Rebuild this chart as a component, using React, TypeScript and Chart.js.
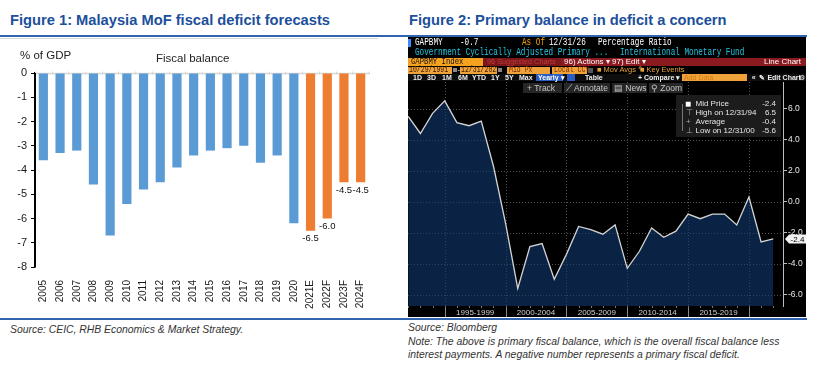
import React, { useEffect, useRef } from "react";
import { Chart, registerables } from "chart.js";
Chart.register(...registerables);

const FONT = '"Liberation Sans", Arial, sans-serif';
const MONO = '"Liberation Mono", "DejaVu Sans Mono", monospace';

// ---------- Figure 1 data ----------
const fiscalYears = ["2005", "2006", "2007", "2008", "2009", "2010", "2011", "2012", "2013", "2014", "2015", "2016", "2017", "2018", "2019", "2020", "2021E", "2022F", "2023F", "2024F"];
const fiscalBalance = [-3.6, -3.3, -3.2, -4.6, -6.7, -5.4, -4.8, -4.5, -3.9, -3.4, -3.2, -3.1, -3.0, -3.7, -3.4, -6.2, -6.5, -6.0, -4.5, -4.5];
const fiscalTicks = [0, -1, -2, -3, -4, -5, -6, -7, -8];

// ---------- Figure 2 data ----------
const bbgYears = [1991, 1992, 1993, 1994, 1995, 1996, 1997, 1998, 1999, 2000, 2001, 2002, 2003, 2004, 2005, 2006, 2007, 2008, 2009, 2010, 2011, 2012, 2013, 2014, 2015, 2016, 2017, 2018, 2019, 2020, 2021];
const primaryBalance = [5.5, 4.4, 5.7, 6.5, 5.1, 4.9, 5.2, 2.3, -1.4, -5.6, -2.9, -2.7, -5.0, -3.4, -1.6, -1.8, -2.1, -1.5, -4.3, -3.2, -1.7, -2.3, -1.9, -0.8, -1.1, -0.8, -0.8, -1.5, 0.3, -2.6, -2.4];
const bbgTicks = [6, 4, 2, 0, -2, -4, -6];
const periodLabels = ["1995-1999", "2000-2004", "2005-2009", "2010-2014", "2015-2019"];
const gridYears = [1995, 2000, 2005, 2010, 2015, 2020];

const isForecast = (l: string) => /[EF]$/.test(l);

const fig1Plugin = {
  id: "fig1",
  beforeDatasetsDraw(chart: any) {
    const { ctx, chartArea: a, scales } = chart;
    const x = scales.x, y = scales.y;
    const y0 = Math.round(y.getPixelForValue(0)) + 0.5;
    ctx.save();
    ctx.strokeStyle = "#d6d6d6";
    ctx.lineWidth = 1.5;
    ctx.beginPath();
    ctx.moveTo(a.left, y0);
    ctx.lineTo(a.right, y0);
    ctx.stroke();
    const n = chart.data.labels.length;
    const step = x.getPixelForValue(1) - x.getPixelForValue(0);
    ctx.lineWidth = 1;
    for (let i = 0; i <= n; i++) {
      const px = Math.round(x.getPixelForValue(0) - step / 2 + i * step) + 0.5;
      ctx.beginPath();
      ctx.moveTo(px, y0 - 2);
      ctx.lineTo(px, y0 + 1);
      ctx.stroke();
    }
    ctx.restore();
  },
  afterDatasetsDraw(chart: any) {
    const { ctx } = chart;
    const meta = chart.getDatasetMeta(0);
    ctx.save();
    ctx.font = `9.5px ${FONT}`;
    ctx.fillStyle = "#111";
    ctx.textAlign = "center";
    ctx.textBaseline = "top";
    meta.data.forEach((bar: any, i: number) => {
      if (isForecast(fiscalYears[i])) ctx.fillText(fiscalBalance[i].toFixed(1), bar.x, bar.y + 3);
    });
    ctx.restore();
  },
  afterDraw(chart: any) {
    const { ctx, chartArea: a } = chart;
    ctx.save();
    ctx.strokeStyle = "#000";
    ctx.lineWidth = 1.5;
    ctx.beginPath();
    ctx.moveTo(a.left + 0.25, a.top);
    ctx.lineTo(a.left + 0.25, a.bottom);
    ctx.stroke();
    ctx.restore();
  },
};

const bbgPlugin = {
  id: "bbg",
  beforeDatasetsDraw(chart: any) {
    const { ctx, chartArea: a, scales } = chart;
    const x = scales.x, y = scales.y;
    ctx.save();
    ctx.strokeStyle = "#505050";
    ctx.lineWidth = 1;
    ctx.setLineDash([1, 2]);
    bbgTicks.forEach((v) => {
      const py = Math.round(y.getPixelForValue(v)) + 0.5;
      ctx.beginPath();
      ctx.moveTo(a.left, py);
      ctx.lineTo(a.right, py);
      ctx.stroke();
    });
    gridYears.forEach((yr) => {
      const px = Math.round(x.getPixelForValue(yr)) + 0.5;
      ctx.beginPath();
      ctx.moveTo(px, a.top);
      ctx.lineTo(px, a.bottom);
      ctx.stroke();
    });
    ctx.restore();
  },
  afterDraw(chart: any) {
    const { ctx, chartArea: a, scales } = chart;
    const x = scales.x, y = scales.y;
    ctx.save();
    ctx.strokeStyle = "#8a8a8a";
    ctx.lineWidth = 1;
    gridYears.forEach((yr) => {
      const px = Math.round(x.getPixelForValue(yr)) + 0.5;
      ctx.beginPath();
      ctx.moveTo(px, a.bottom);
      ctx.lineTo(px, chart.height);
      ctx.stroke();
    });
    ctx.strokeStyle = "#777";
    bbgYears.forEach((yr) => {
      const px = Math.round(x.getPixelForValue(yr + 1)) + 0.5;
      ctx.beginPath();
      ctx.moveTo(px, a.bottom);
      ctx.lineTo(px, a.bottom + 2);
      ctx.stroke();
    });
    ctx.fillStyle = "#d0d0d0";
    ctx.font = `8px ${FONT}`;
    ctx.textAlign = "center";
    ctx.textBaseline = "middle";
    periodLabels.forEach((l) => {
      const start = parseInt(l);
      const px = x.getPixelForValue(start + 2.5);
      ctx.fillText(l, px, (a.bottom + chart.height) / 2 + 1);
    });
    const last = primaryBalance[primaryBalance.length - 1];
    const py = y.getPixelForValue(last);
    const x0 = a.right + 2;
    ctx.fillStyle = "#f2f2f2";
    ctx.beginPath();
    ctx.moveTo(x0, py);
    ctx.lineTo(x0 + 4, py - 4.5);
    ctx.lineTo(x0 + 21, py - 4.5);
    ctx.lineTo(x0 + 21, py + 4.5);
    ctx.lineTo(x0 + 4, py + 4.5);
    ctx.closePath();
    ctx.fill();
    ctx.fillStyle = "#000";
    ctx.font = `8px ${FONT}`;
    ctx.textAlign = "center";
    ctx.textBaseline = "middle";
    ctx.fillText(last.toFixed(1), x0 + 12.5, py + 0.5);
    ctx.restore();
  },
};

function Mono({ x, cy, text, color, size = 10 }: any) {
  return (
    <div style={{ position: "absolute", left: x, top: cy - 6, height: 12, lineHeight: "12px", fontFamily: MONO, fontSize: size, color, whiteSpace: "pre", transform: "scaleX(0.767)", transformOrigin: "0 0" }}>{text}</div>
  );
}

function Sans({ x, cy, text, color, size = 8, bold = false, right, italic = false }: any) {
  const st: any = { position: "absolute", top: cy - 6, height: 12, lineHeight: "12px", fontFamily: FONT, fontSize: size, color, whiteSpace: "pre", fontWeight: bold ? "bold" : "normal", fontStyle: italic ? "italic" : "normal" };
  if (right !== undefined) st.right = 825 - right;
  else st.left = x;
  return <div style={st}>{text}</div>;
}

function Rect({ x1, x2, y1, y2, bg }: any) {
  return <div style={{ position: "absolute", left: x1, top: y1, width: x2 - x1, height: y2 - y1, background: bg }} />;
}

export default function App() {
  const ref1 = useRef<HTMLCanvasElement>(null);
  const ref2 = useRef<HTMLCanvasElement>(null);

  useEffect(() => {
    const c1 = new Chart(ref1.current as HTMLCanvasElement, {
      type: "bar",
      data: {
        labels: fiscalYears,
        datasets: [
          {
            data: fiscalBalance,
            backgroundColor: fiscalYears.map((l) => (isForecast(l) ? "#ed7d31" : "#5b9bd5")),
            barPercentage: 0.55,
            categoryPercentage: 1,
          },
        ],
      },
      options: {
        responsive: false,
        animation: false,
        devicePixelRatio: 1,
        layout: { padding: { top: 35, right: 36, left: 0, bottom: 0 } },
        plugins: { legend: { display: false }, tooltip: { enabled: false } },
        scales: {
          x: {
            grid: { display: false },
            border: { display: false },
            ticks: { minRotation: 90, maxRotation: 90, autoSkip: false, padding: 5, color: "#1a1a1a", font: { family: FONT, size: 10 } },
            afterFit: (s: any) => { s.height = 51; },
          },
          y: {
            min: -8,
            max: 0,
            afterBuildTicks: (s: any) => { s.ticks = fiscalTicks.map((v) => ({ value: v })); },
            ticks: { padding: 4, color: "#1a1a1a", font: { family: FONT, size: 11 } },
            grid: { drawOnChartArea: false, drawTicks: true, tickLength: 4, color: "#000", lineWidth: 1 },
            border: { display: true, color: "#000", width: 1.5 },
            afterFit: (s: any) => { s.width = 35; },
          },
        },
      } as any,
      plugins: [fig1Plugin],
    });

    const c2 = new Chart(ref2.current as HTMLCanvasElement, {
      type: "line",
      data: {
        datasets: [
          {
            data: bbgYears.map((yr, i) => ({ x: yr + 1, y: primaryBalance[i] })),
            borderColor: "#d4d4d4",
            borderWidth: 1.3,
            pointRadius: 0,
            fill: "start",
            backgroundColor: "rgba(18,60,118,0.58)",
            tension: 0,
          },
        ],
      },
      options: {
        responsive: false,
        animation: false,
        devicePixelRatio: 1,
        layout: { padding: { top: 45, left: 0, right: 0, bottom: 0 } },
        plugins: { legend: { display: false }, tooltip: { enabled: false } },
        scales: {
          x: {
            type: "linear",
            min: 1991.98,
            max: 2022.8,
            grid: { display: false },
            border: { display: false },
            ticks: { display: false },
            afterFit: (s: any) => { s.height = 11; },
          },
          y: {
            type: "linear",
            position: "right",
            min: -6.73,
            max: 7.72,
            afterBuildTicks: (s: any) => { s.ticks = bbgTicks.map((v) => ({ value: v })); },
            ticks: { padding: 1, color: "#e8e8e8", font: { family: FONT, size: 8.5 }, callback: (v: any) => Number(v).toFixed(1) },
            grid: { drawOnChartArea: false, drawTicks: true, tickLength: 4, color: "#bdbdbd" },
            border: { display: true, color: "#bdbdbd", width: 1 },
            afterFit: (s: any) => { s.width = 23; },
          },
        },
      } as any,
      plugins: [bbgPlugin],
    });

    return () => {
      c1.destroy();
      c2.destroy();
    };
  }, []);

  const last = primaryBalance[primaryBalance.length - 1];
  const maxV = Math.max(...primaryBalance);
  const minV = Math.min(...primaryBalance);
  const avg = primaryBalance.reduce((s, v) => s + v, 0) / primaryBalance.length;
  const maxYear = bbgYears[primaryBalance.indexOf(maxV)];
  const minYear = bbgYears[primaryBalance.indexOf(minV)];
  const d = (y: number) => `12/31/${String(y).slice(2)}`;
  const legendRows = [
    { icon: "■", label: "Mid Price", value: last },
    { icon: "⊤", label: `High on ${d(maxYear)}`, value: maxV },
    { icon: "+", label: "Average", value: avg },
    { icon: "⊥", label: `Low on ${d(minYear)}`, value: minV },
  ];
  const legendY = [104, 113.3, 122, 130.7];

  return (
    <div style={{ position: "absolute", left: 0, top: 0, width: 825, height: 380, background: "#fff", fontFamily: FONT, overflow: "hidden" }}>
      <div style={{ position: "absolute", left: 10, top: 12, fontSize: 14.7, fontWeight: "bold", color: "#1c4f9c", lineHeight: "16px", whiteSpace: "nowrap" }}>Figure 1: Malaysia MoF fiscal deficit forecasts</div>
      <div style={{ position: "absolute", left: 409, top: 12, fontSize: 14.7, fontWeight: "bold", color: "#1c4f9c", lineHeight: "16px", whiteSpace: "nowrap" }}>Figure 2: Primary balance in deficit a concern</div>
      <Rect x1={0} x2={807} y1={35} y2={37} bg="#2e64b0" />
      <Rect x1={0} x2={378} y1={37.5} y2={38.5} bg="#d8d8d8" />

      <canvas ref={ref1} width={405} height={280} style={{ position: "absolute", left: 0, top: 38, width: 405, height: 280 }} />
      <Sans x={20} cy={55} text="% of GDP" color="#222" size={11.5} />
      <Sans x={156} cy={58} text="Fiscal balance" color="#222" size={11.5} />

      <div style={{ position: "absolute", left: 408, top: 37, width: 398, height: 280, background: "#000" }} />
      <canvas ref={ref2} width={398} height={280} style={{ position: "absolute", left: 408, top: 37, width: 398, height: 280 }} />

      {/* row 1 */}
      <Rect x1={408} x2={411} y1={39} y2={47} bg="#3d8bff" />
      <Mono x={415} cy={43} text="GAPBMY" color="#fff" />
      <Mono x={460} cy={43} text="-0.7" color="#fff" />
      <Mono x={522} cy={43} text="As Of" color="#f2a007" />
      <Mono x={549} cy={43} text="12/31/26" color="#fff" />
      <Mono x={598} cy={43} text="Percentage Ratio" color="#fff" />
      {/* row 2 */}
      <Mono x={415} cy={52.5} text="Government Cyclically Adjusted Primary ..." color="#22c6de" />
      <Mono x={620} cy={52.5} text="International Monetary Fund" color="#22c6de" />
      {/* row 3 */}
      <Rect x1={408} x2={483} y1={58} y2={66} bg="#f5a21f" />
      <Mono x={411} cy={62} text="GAPBMY Index" color="#111" size={9.5} />
      <Rect x1={483} x2={806} y1={58} y2={66} bg="#8a1a1f" />
      <Rect x1={483} x2={561} y1={58} y2={66} bg="#7a171b" />
      <Sans x={487} cy={62} text="96 Suggested Charts" color="#c23b3b" size={7.3} />
      <Sans x={564} cy={62} text="96) Actions ▾" color="#fff" size={8} />
      <Sans x={612} cy={62} text="97) Edit ▾" color="#fff" size={8} />
      <Sans right={801} cy={62} text="Line Chart" color="#fff" size={8} />
      {/* row 4 */}
      <Rect x1={408} x2={451.7} y1={66.5} y2={73.5} bg="#f0a23a" />
      <Mono x={409} cy={70} text="10/29/1991" color="#3a1a00" size={8.5} />
      <Rect x1={452.5} x2={457} y1={68} y2={72} bg="#888" />
      <Sans x={457.5} cy={70} text="-" color="#fff" size={7} />
      <Rect x1={460} x2={496.7} y1={66.5} y2={73.5} bg="#f0a23a" />
      <Mono x={461} cy={70} text="12/31/2021" color="#3a1a00" size={8.5} />
      <Rect x1={497.5} x2={502} y1={68} y2={72} bg="#888" />
      <Rect x1={506.7} x2={550} y1={66.5} y2={73.5} bg="#f0a23a" />
      <Mono x={509} cy={70} text="Mid Px" color="#7a2a00" size={8.5} />
      <Rect x1={551.7} x2={586.7} y1={66.5} y2={73.5} bg="#f0a23a" />
      <Mono x={554} cy={70} text="Local CCY" color="#7a2a00" size={8.5} />
      <Rect x1={588} x2={593} y1={67.5} y2={72.5} bg="#555" />
      <Sans x={597} cy={70} text="■ Mov Avgs ✎" color="#e6a23c" size={7.5} />
      <Sans x={640} cy={70} text="■ Key Events" color="#e6a23c" size={7.5} />
      {/* row 5 */}
      <Rect x1={408} x2={806} y1={74} y2={81} bg="#0e0e0e" />
      {["1D", "3D", "1M", "6M", "YTD", "1Y", "5Y", "Max"].map((t, i) => (
        <Sans key={t} x={[413, 427, 442, 458, 472, 491, 505, 519][i]} cy={77.5} text={t} color="#eee" size={7} bold />
      ))}
      <Rect x1={535.7} x2={563.3} y1={74.3} y2={81} bg="#2a5cc4" />
      <Sans x={538} cy={77.5} text="Yearly ▾" color="#fff" size={7} bold />
      <Rect x1={566.7} x2={575} y1={74.3} y2={81} bg="#2a5cc4" />
      <Sans x={585} cy={77.5} text="Table" color="#eee" size={7} bold />
      <Sans x={638} cy={77.5} text="+ Compare ▾" color="#eee" size={7} bold />
      <Rect x1={681.7} x2={746.7} y1={74.3} y2={81} bg="#f0a23a" />
      <Sans x={684} cy={77.5} text="Add Data" color="#d07a10" size={7} />
      <Sans x={751.7} cy={77.5} text="«  ✎ Edit Chart" color="#eee" size={7} bold />
      <Sans x={799} cy={77.5} text="⚙" color="#eee" size={7} />
      {/* row 6 buttons */}
      <Rect x1={523} x2={561.7} y1={82.5} y2={92.5} bg="#262626" />
      <Sans x={527} cy={87.5} text="+ Track" color="#c8c8c8" size={8.5} />
      <Rect x1={564} x2={610} y1={82.5} y2={92.5} bg="#262626" />
      <Sans x={566} cy={87.5} text="⟋ Annotate" color="#c8c8c8" size={8.5} />
      <Rect x1={612} x2={647} y1={82.5} y2={92.5} bg="#262626" />
      <Sans x={614} cy={87.5} text="▤ News" color="#c8c8c8" size={8.5} />
      <Rect x1={649} x2={683} y1={82.5} y2={92.5} bg="#262626" />
      <Sans x={651} cy={87.5} text="⚲ Zoom" color="#c8c8c8" size={8.5} />

      {/* legend box */}
      <div style={{ position: "absolute", left: 676, top: 95, width: 105, height: 42, background: "rgba(30,30,30,0.92)" }} />
      <Rect x1={682} x2={683} y1={104} y2={131} bg="#777" />
      {legendRows.map((r, i) => (
        <React.Fragment key={r.label}>
          <Sans x={r.icon === "■" ? 685 : 686} cy={legendY[i]} text={r.icon} color={r.icon === "■" ? "#fff" : "#aaa"} size={r.icon === "■" ? 10 : 8} />
          <Sans x={695.5} cy={legendY[i]} text={r.label} color="#e6e6e6" size={8} />
          <Sans right={776} cy={legendY[i]} text={r.value.toFixed(1)} color="#e6e6e6" size={8} />
        </React.Fragment>
      ))}

      <Rect x1={0} x2={807} y1={318} y2={320} bg="#2e64b0" />
      <Sans x={10} cy={330} text="Source: CEIC, RHB Economics & Market Strategy." color="#333" size={10.4} italic />
      <Sans x={408} cy={328.3} text="Source: Bloomberg" color="#333" size={10.4} italic />
      <Sans x={408} cy={341.7} text="Note: The above is primary fiscal balance, which is the overall fiscal balance less" color="#333" size={10.4} italic />
      <Sans x={408} cy={355} text="interest payments. A negative number represents a primary fiscal deficit." color="#333" size={10.4} italic />
    </div>
  );
}
